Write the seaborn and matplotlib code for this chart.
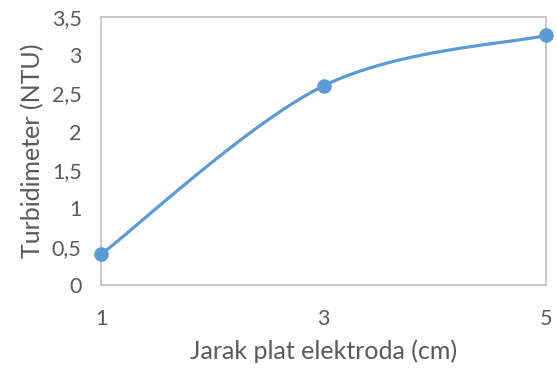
import numpy as np
import pandas as pd
import matplotlib
matplotlib.use("Agg")
import matplotlib.pyplot as plt
import seaborn as sns

x_vals = [1, 3, 5]
y_vals = [0.40, 2.60, 3.26]
y_ticks = [0, 0.5, 1, 1.5, 2, 2.5, 3, 3.5]
y_tick_labels = ["0", "0,5", "1", "1,5", "2", "2,5", "3", "3,5"]
x_ticks = [1, 3, 5]
x_label = "Jarak plat elektroda (cm)"
y_label = "Turbidimeter (NTU)"

sns.set_theme(style="white")
plt.rcParams['font.family'] = ['Lato', 'DejaVu Sans']

color = "#5B9BD5"
text_color = "#595959"

# Excel-like smoothed curve (Catmull-Rom Bezier) through the data points
def smooth(xs, ys, n=60):
    P = np.column_stack([xs, ys]).astype(float)
    P_ext = np.vstack([P[0], P, P[-1]])
    out = []
    for i in range(len(P) - 1):
        p0, p1, p2, p3 = P_ext[i], P_ext[i + 1], P_ext[i + 2], P_ext[i + 3]
        c1 = p1 + (p2 - p0) / 6.0
        c2 = p2 - (p3 - p1) / 6.0
        t = np.linspace(0, 1, n)[:, None]
        seg = ((1 - t) ** 3) * p1 + 3 * ((1 - t) ** 2) * t * c1 + 3 * (1 - t) * t ** 2 * c2 + t ** 3 * p2
        out.append(seg if i == 0 else seg[1:])
    return np.vstack(out)

curve = smooth(x_vals, y_vals)
df_curve = pd.DataFrame({"x": curve[:, 0], "y": curve[:, 1]})
df_pts = pd.DataFrame({"x": x_vals, "y": y_vals})

fig = plt.figure(figsize=(5.57, 3.70), dpi=100)
ax = fig.add_axes([101 / 557, 85 / 370, 445 / 557, 268 / 370])

sns.lineplot(data=df_curve, x="x", y="y", ax=ax, color=color, linewidth=2.3, sort=False)
sns.scatterplot(data=df_pts, x="x", y="y", ax=ax, color=color, s=110, edgecolor=color, linewidth=0, zorder=5, clip_on=False)

ax.set_xlim(1, 5)
ax.set_ylim(0, 3.5)
ax.set_xticks(x_ticks)
ax.set_xticklabels([str(v) for v in x_ticks])
ax.set_yticks(y_ticks)
ax.set_yticklabels(y_tick_labels)
ax.tick_params(axis="both", length=0, labelsize=15.5, colors=text_color)
ax.tick_params(axis="x", pad=17)
ax.tick_params(axis="y", pad=14)
ax.set_xlabel(x_label, fontsize=18, color=text_color, labelpad=8)
ax.set_ylabel(y_label, fontsize=18, color=text_color, labelpad=5)

for s in ax.spines.values():
    s.set_visible(True)
    s.set_color("#BFBFBF")
    s.set_linewidth(1.2)

fig.savefig("out.png", dpi=100)
